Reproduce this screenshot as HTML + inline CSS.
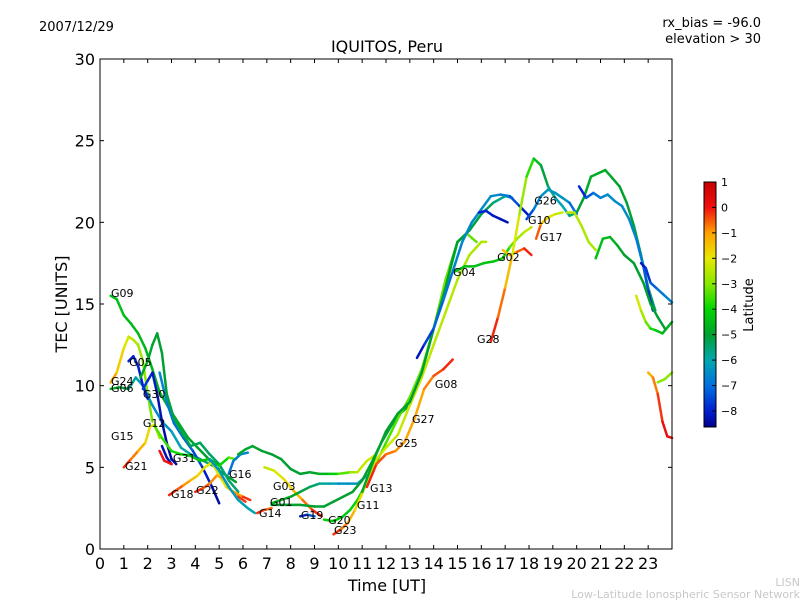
<!DOCTYPE html>
<html><head><meta charset="utf-8"><style>
body{margin:0;background:#fff;}
svg{display:block;font-family:"DejaVu Sans","Liberation Sans",sans-serif;}
</style></head><body>
<svg id="chart" width="800" height="600" viewBox="0 0 800 600">
<defs><linearGradient id="cbgrad" x1="0" y1="1" x2="0" y2="0"></linearGradient></defs>
<text x="39" y="31" font-size="13">2007/12/29</text>
<text x="761" y="27" font-size="13" text-anchor="end">rx_bias = -96.0</text>
<text x="761" y="43" font-size="13" text-anchor="end">elevation &gt; 30</text>
<text x="387" y="52" font-size="16" text-anchor="middle">IQUITOS, Peru</text>
<g id="plot"></g>
<rect x="100" y="59" width="572" height="490" fill="none" stroke="#000" stroke-width="1"/>
<g id="axes"></g>
<text x="387" y="591" font-size="16" text-anchor="middle">Time [UT]</text>
<text x="0" y="0" font-size="16" text-anchor="middle" transform="translate(67,304) rotate(-90)">TEC [UNITS]</text>
<g id="cbar"></g>
<text x="0" y="0" font-size="13" text-anchor="middle" transform="translate(753,305) rotate(-90)">Latitude</text>
<text x="800" y="586" font-size="11" fill="#c8c8c8" text-anchor="end">LISN</text>
<text x="800" y="598" font-size="11" fill="#c8c8c8" text-anchor="end">Low-Latitude Ionospheric Sensor Network</text>
</svg>
<script>
const xTicks=[0,1,2,3,4,5,6,7,8,9,10,11,12,13,14,15,16,17,18,19,20,21,22,23];
const yTicks=[0,5,10,15,20,25,30];
const cbTicks=[1,0,-1,-2,-3,-4,-5,-6,-7,-8];
const latStops=[-8.63,-8,-7,-6,-5,-4,-3,-2,-1,0,1];
const latColors=["#00008a","#0020d0","#0070e0","#00a8b0","#00a030","#00d800","#88e800","#e8e800","#ffa000","#f01010","#c80000"];
const trackNames=["G09","G24","G06","G05","G30","G12","G-dg","G21","G31","G-b","G-r","G18","G22","G16","G16b","G-dg2","G-y","G14","G19","G01g","G01","G20","G23","G13","G25","G-teal","G04","G02","G17","G28","G10","G26","G-bl","G-yg","G-or","G-y2","G-y3","G-g3","G-b2"];
const trackTimes=[
[0.45,0.7,1.0,1.3,1.6,1.9,2.2,2.5,2.9,3.3,3.7,4.1,4.5,4.9,5.3,5.7],
[0.45,0.7,1.0,1.2,1.4,1.6,1.8,2.0,2.2],
[0.45,0.8,1.2,1.5,1.8,2.2,2.6,3.0,3.4,3.8,4.2,4.6,5.0],
[1.2,1.4,1.6,1.8,2.0],
[1.8,2.0,2.2,2.4,2.6,2.8,3.0,3.2],
[2.5,2.8,3.1,3.5,3.9,4.3,4.7,5.0],
[1.7,2.0,2.2,2.4,2.6,2.8,3.1,3.4,3.8,4.2,4.6,5.0,5.4,5.8],
[1.0,1.3,1.6,1.9,2.1,2.3,2.5],
[2.3,2.6,3.0,3.4,3.8,4.2,4.6,5.0,5.4,5.7],
[2.6,2.8,3.0],
[2.5,2.7,3.0],
[2.9,3.2,3.5,3.8,4.1,4.4,4.7,5.0,5.3,5.6,6.0,6.3],
[4.0,4.3,4.6,4.9,5.2,5.5,5.8,6.1],
[5.4,5.6,5.9,6.2],
[4.6,5.0,5.4,5.8,6.2,6.5],
[5.8,6.1,6.4,6.8,7.2,7.6,8.0,8.4,8.8,9.2,9.6,10.0,10.5,10.8,11.2,11.5],
[6.9,7.3,7.7,8.1,8.5,8.9,9.3],
[6.6,6.9,7.2],
[8.4,8.7,9.0],
[7.2,7.6,8.0,8.4,8.8,9.2,9.6,10.0,10.4,10.8,11.2],
[7.2,7.8,8.4,9.0,9.4,9.8,10.2,10.6,11.0,11.4,11.8,12.2,12.6,13.0,13.5,14.0,14.5,15.0,15.3],
[9.4,9.8,10.2,10.5,10.8,11.1,11.5,12.0,12.5,13.0,13.5,14.0,14.5,15.0,15.4,15.8],
[9.8,10.1,10.4,10.7,11.0,11.3,11.6,12.0,12.5,13.0,13.5,14.0,14.5,15.0,15.5,16.0,16.2],
[11.2,11.6,12.0,12.4,12.8,13.2,13.6,14.0,14.4,14.8],
[11.0,11.5,12.0,12.5,13.0,13.5,14.0,14.5,14.8,15.0,15.5,16.0,16.5,17.0,17.3],
[13.3,13.6,14.0,14.4,14.8,15.2,15.6,16.0,16.4,16.8,17.2,17.6,18.0],
[14.9,15.3,15.7,16.1,16.5,16.9,17.2,17.5,17.8,18.1],
[16.9,17.2,17.5,17.8,18.1],
[18.3,18.5,18.8,19.1,19.4],
[16.4,16.7,17.0,17.3,17.6,17.9,18.2,18.5,18.8,19.1,19.4,19.7,20.0,20.3,20.6,20.9,21.2,21.5,21.8,22.1,22.4,22.7,23.0,23.3],
[17.9,18.2,18.5,18.8,19.1,19.4,19.7,20.0],
[20.1,20.4,20.7,21.0,21.3,21.6,21.9,22.2,22.5,22.8,23.0,23.2],
[15.9,16.2,16.5,16.8,17.1],
[19.6,19.9,20.2,20.5,20.8],
[23.0,23.2,23.4,23.6,23.8,24.0],
[22.5,22.7,22.9,23.1,23.3,23.6,24.0],
[23.4,23.7,24.0],
[20.8,21.1,21.4,21.7,22.0,22.4,22.8,23.1,23.4,23.7],
[22.7,22.9,23.1,23.4,23.7,24.0]
];
const trackTec=[
[15.5,15.3,14.3,13.8,13.2,12.3,11.0,9.6,8.6,7.7,6.8,6.2,5.6,4.9,4.5,4.1],
[10.2,10.8,12.3,13.0,12.8,12.5,11.5,9.5,7.8],
[9.8,9.9,9.8,10.5,10.0,8.8,7.8,7.2,6.2,5.8,5.5,5.2,4.9],
[11.5,11.8,11.2,10.0,9.2],
[9.8,10.3,10.8,9.5,7.8,6.5,5.5,5.2],
[10.8,9.0,7.7,6.8,6.0,5.0,3.8,2.8],
[10.5,11.5,12.5,13.2,12.0,9.5,8.0,7.2,6.3,6.5,5.8,5.2,4.2,3.5],
[5.0,5.5,6.0,6.5,7.5,7.6,6.8],
[7.5,6.8,6.0,5.8,5.7,5.4,5.5,5.1,5.6,5.5],
[6.3,5.6,5.2],
[6.0,5.4,5.2],
[3.3,3.6,3.9,4.2,4.5,5.0,5.3,4.5,3.8,3.5,3.2,3.0],
[3.5,3.7,4.0,4.5,4.3,3.6,3.2,2.9],
[4.6,5.4,5.8,5.9],
[5.5,4.8,3.8,3.0,2.5,2.2],
[5.8,6.1,6.3,6.0,5.8,5.5,4.9,4.6,4.7,4.6,4.6,4.6,4.7,4.7,5.4,5.7],
[5.0,4.8,4.3,3.6,3.0,2.4,2.0],
[2.2,2.4,2.5],
[2.0,2.1,2.0],
[2.8,3.0,3.2,3.5,3.8,4.0,4.0,4.0,4.0,4.0,4.5],
[2.7,2.7,2.7,2.6,2.6,2.9,3.2,3.5,4.2,5.3,6.5,7.5,8.3,8.8,10.8,13.5,16.0,18.8,19.2],
[1.8,1.7,2.0,2.4,3.0,3.8,5.0,6.5,8.0,9.3,11.0,13.5,16.5,18.8,19.3,18.8],
[0.9,1.2,1.6,2.4,3.4,4.4,5.5,6.2,7.0,8.8,10.5,12.5,14.5,16.5,18.0,18.8,18.8],
[3.8,5.2,5.8,6.0,6.6,8.0,9.8,10.6,11.0,11.6],
[3.5,5.5,7.2,8.3,9.0,10.8,13.5,16.0,17.8,18.8,19.5,20.5,21.2,21.6,21.5],
[11.7,12.5,13.5,15.2,17.0,18.8,20.0,20.8,21.6,21.7,21.6,21.0,20.4],
[17.0,17.3,17.3,17.5,17.6,17.8,18.5,19.0,19.4,19.7],
[18.3,18.0,18.2,18.4,18.0],
[19.0,19.9,20.3,20.5,20.6],
[12.7,14.2,16.0,18.0,20.5,22.8,23.9,23.5,22.2,21.5,21.0,20.4,20.6,21.5,22.8,23.0,23.2,22.7,22.2,21.2,19.8,18.0,16.0,14.6],
[20.2,20.8,21.6,22.0,21.8,21.5,21.2,20.5],
[22.2,21.5,21.8,21.5,21.7,21.3,21.0,20.2,19.0,17.3,15.8,14.6],
[20.6,20.7,20.4,20.2,20.0],
[20.6,20.6,19.8,18.8,18.3],
[10.8,10.5,9.5,7.8,6.9,6.8],
[15.5,14.6,13.9,13.5,13.4,13.2,13.9],
[10.2,10.4,10.8],
[17.8,19.0,19.1,18.6,18.0,17.5,16.3,15.0,14.2,13.5],
[17.5,17.2,16.3,15.9,15.5,15.1]
];
const trackLat=[
[-4.4,-4.4,-4.5,-4.5,-4.6,-4.6,-4.7,-4.7,-4.8,-4.8,-4.9,-4.9,-5,-5,-5,-5],
[-0.8,-1.3,-2,-2.3,-2.5,-2.7,-2.9,-3,-3.2],
[-4.5,-4.8,-5.5,-6,-6.3,-6.5,-6.5,-6.3,-6,-5.8,-5.5,-5.3,-5.2],
[-8,-8,-8,-8,-8],
[-7.5,-7.8,-8,-8.2,-8.3,-8.4,-8.5,-8.5],
[-6.5,-6.8,-7,-7,-7.3,-7.8,-8.3,-8.5],
[-4.8,-4.8,-4.9,-5,-5,-5.1,-5.2,-5.2,-5.3,-5.3,-5.4,-5.4,-5.5,-5.5],
[0,-0.5,-1,-1.5,-2,-2.5,-3],
[-3.3,-3.5,-3.8,-4,-4.2,-4.3,-4.4,-4.5,-3.5,-3],
[-8.3,-8.3,-8.3],
[0,0,0],
[0,-0.3,-0.7,-1.2,-1.6,-2,-2.2,-2.2,-2,-1.5,-0.5,0],
[0,-0.3,-0.7,-1,-1.3,-1.3,-0.5,0],
[-7,-6.8,-6.6,-6.5],
[-6.5,-6.4,-6.3,-6.2,-6.1,-6],
[-4.8,-4.8,-4.9,-5,-5,-5,-5,-5,-5,-4.8,-4.5,-3.8,-3,-2.5,-2.3,-2.2],
[-2.5,-2.3,-2,-1.5,-1,-0.3,0],
[0,-0.4,-0.8],
[-8.2,-7.6,-7],
[-4.5,-4.6,-4.8,-5,-5.3,-5.6,-6,-6.3,-6.5,-6.3,-6],
[-5,-5,-5,-5,-5,-5,-5,-5,-5,-5,-5,-5,-4.8,-4.6,-4.4,-4.2,-4.1,-4,-4],
[-4,-4.2,-4.3,-4.2,-4,-3.8,-3.6,-3.5,-3.4,-3.3,-3.2,-3.2,-3.2,-3.3,-3.3,-3.3],
[0,-0.5,-1,-1.5,-2,-2.2,-2.3,-2.3,-2.3,-2.4,-2.4,-2.5,-2.5,-2.6,-2.6,-2.6,-2.6],
[0,-0.3,-0.6,-0.8,-1,-1.2,-1,-0.6,-0.3,0],
[-4.8,-4.9,-5,-5,-5,-5,-5,-5,-5,-5,-5,-5.2,-5.5,-5.8,-6],
[-8.3,-8,-7.3,-7,-6.8,-6.6,-6.5,-6.5,-6.5,-6.6,-7,-7.8,-8.3],
[-4.5,-4.5,-4.5,-4.4,-4.3,-4.2,-3.5,-3,-2.5,-2.3],
[-1.8,-1.2,-0.8,-0.3,0],
[0,-1,-2,-2.3,-2.5],
[0,-0.3,-1,-1.8,-2.5,-3.2,-4.2,-4.8,-5.5,-6,-6.2,-5.8,-5.2,-4.8,-4.8,-4.8,-4.8,-4.9,-5,-5,-5.1,-5.2,-5.3,-5.4],
[-8,-7,-6.5,-6.3,-6.3,-6.3,-6.5,-7.5],
[-8.3,-7.5,-7,-6.7,-6.5,-6.5,-6.5,-6.5,-6.6,-7,-7.6,-8.2],
[-8,-8,-8.1,-8.2,-8.3],
[-2.5,-2.5,-2.6,-2.6,-2.7],
[-1.5,-1,-0.5,0,0.2,0],
[-2,-2.4,-3,-3.6,-4.2,-4.6,-4.7],
[-3,-3,-3],
[-4.3,-4.5,-4.6,-4.8,-5,-5,-5,-5,-5,-5],
[-8.3,-8,-7.5,-7,-6.8,-6.5]
];
const labelNames=["G09","G05","G24","G06","G30","G12","G15","G21","G31","G18","G22","G16","G03","G01","G14","G19","G20","G23","G11","G13","G25","G27","G08","G28","G04","G02","G10","G17","G26"];
const labelTimes=[0.46,1.22,0.46,0.46,1.80,1.80,0.46,1.05,3.06,2.98,4.03,5.41,7.26,7.13,6.67,8.43,9.57,9.82,10.78,11.33,12.38,13.09,14.05,15.82,14.81,16.66,17.96,18.46,18.22];
const labelTec=[15.43,11.2,10.04,9.61,9.24,7.47,6.67,4.84,5.33,3.12,3.37,4.35,3.61,2.63,1.96,1.84,1.53,0.92,2.45,3.49,6.24,7.71,9.86,12.6,16.71,17.63,19.9,18.86,21.1];

const NS="http://www.w3.org/2000/svg";
const X0=100,X1=672,Y0=549,Y1=59;
function xs(h){return X0+(X1-X0)*h/24;}
function ys(v){return Y0-(Y0-Y1)*v/30;}
const CB_TOP=182,CB_BOT=427,CB_MAX=1,CB_MIN=-8.63;
function cs(l){return CB_TOP+(CB_MAX-l)/(CB_MAX-CB_MIN)*(CB_BOT-CB_TOP);}
function hex(c){return [parseInt(c.substr(1,2),16),parseInt(c.substr(3,2),16),parseInt(c.substr(5,2),16)];}
function color(l){
  if(l<=latStops[0])return latColors[0];
  for(let i=1;i<latStops.length;i++){
    if(l<=latStops[i]){
      const f=(l-latStops[i-1])/(latStops[i]-latStops[i-1]);
      const a=hex(latColors[i-1]),b=hex(latColors[i]);
      return "rgb("+a.map((v,k)=>Math.round(v+(b[k]-v)*f)).join(",")+")";
    }
  }
  return latColors[latColors.length-1];
}
function el(tag,attrs,parent){const e=document.createElementNS(NS,tag);for(const k in attrs)e.setAttribute(k,attrs[k]);parent.appendChild(e);return e;}

const plot=document.getElementById("plot");
for(let t=0;t<trackTimes.length;t++){
  const g=el("g",{},plot);
  
  
  const T=trackTimes[t],V=trackTec[t],L=trackLat[t];
  for(let i=0;i<T.length-1;i++){
    const seg=el("line",{x1:xs(T[i]),y1:ys(V[i]),x2:xs(T[i+1]),y2:ys(V[i+1]),stroke:color((L[i]+L[i+1])/2),"stroke-width":2.5,"stroke-linecap":"round"},g);
    
    
  }
}
for(let i=0;i<labelNames.length;i++){
  const tx=el("text",{x:xs(labelTimes[i]),y:ys(labelTec[i]),"font-size":11},plot);
  tx.textContent=labelNames[i];
  
  
}
const axes=document.getElementById("axes");
for(const h of xTicks){
  const x=xs(h);
  el("line",{x1:x,y1:Y0,x2:x,y2:Y0-4,stroke:"#000"},axes);
  el("line",{x1:x,y1:Y1,x2:x,y2:Y1+4,stroke:"#000"},axes);
  const tx=el("text",{x:x,y:Y0+20,"font-size":16,"text-anchor":"middle"},axes);
  tx.textContent=h;
  
  
}
for(const v of yTicks){
  const y=ys(v);
  el("line",{x1:X0,y1:y,x2:X0+4,y2:y,stroke:"#000"},axes);
  el("line",{x1:X1,y1:y,x2:X1-4,y2:y,stroke:"#000"},axes);
  const tx=el("text",{x:X0-5,y:y+6,"font-size":16,"text-anchor":"end"},axes);
  tx.textContent=v;
  
  
}
const grad=document.getElementById("cbgrad");
for(let i=0;i<latStops.length;i++){
  el("stop",{offset:((latStops[i]-CB_MIN)/(CB_MAX-CB_MIN)).toFixed(4),"stop-color":latColors[i]},grad);
}
const cbar=document.getElementById("cbar");
const cbr=el("rect",{x:704,y:CB_TOP,width:12,height:CB_BOT-CB_TOP,fill:"url(#cbgrad)",stroke:"#000","stroke-width":1},cbar);


for(const l of cbTicks){
  const y=cs(l);
  el("line",{x1:712,y1:y,x2:716,y2:y,stroke:"#000"},cbar);
  const tx=el("text",{x:721,y:y+4,"font-size":11},cbar);
  tx.textContent=l<0?"\u2212"+Math.abs(l):String(l);
  
  
}
</script>
</body></html>
